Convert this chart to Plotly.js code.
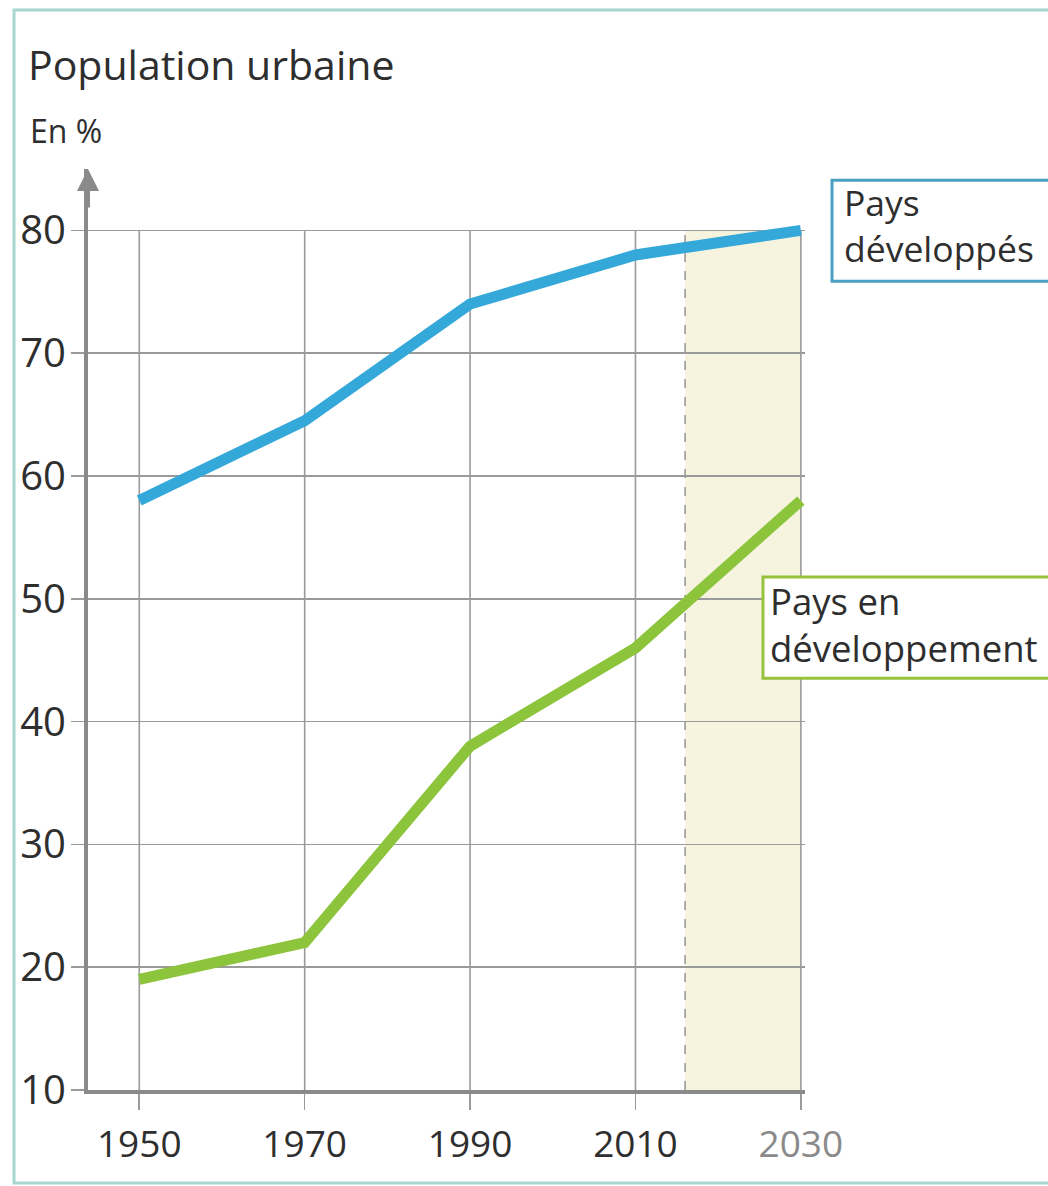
<!DOCTYPE html>
<html>
<head>
<meta charset="utf-8">
<script src="https://cdn.plot.ly/plotly-3.0.1.min.js"></script>
<style>html,body{margin:0;padding:0;background:#fff;}#chart{width:1048px;height:1186px;}</style>
</head>
<body>
<div id="chart"></div>
<script>
// ---- data ----
const years = [1950, 1970, 1990, 2010, 2030];
const developed = [58, 64.5, 74, 78, 80];
const developing = [19, 22, 38, 46, 58];
const yTicks = [10, 20, 30, 40, 50, 60, 70, 80];
const xTickText = ['1950', '1970', '1990', '2010', '<span style="color:#8a8a8a">2030</span>'];
const projectionStart = 2016;
const projectionEnd = 2030;
const yMin = 10, yGridTop = 80, yAxisTop = 85;
const xRange = [1943.8, 2030.5];

const FONT = 'Open Sans, Lato, sans-serif';
const TXT = '#2e2e2e';
const GRID = '#9a9a9a';
const AXIS = '#8a8a8a';

const traces = [
  {x: years, y: developed, mode: 'lines', line: {color: '#35a8da', width: 11}, hoverinfo: 'skip'},
  {x: years, y: developing, mode: 'lines', line: {color: '#8cc43c', width: 11}, hoverinfo: 'skip'}
];

const shapes = [];
// projection shading
shapes.push({type: 'rect', xref: 'x', yref: 'y', x0: projectionStart, x1: projectionEnd, y0: yMin, y1: yGridTop,
  fillcolor: '#f6f3df', line: {width: 0}, layer: 'below'});
// vertical grid lines (stop at the top grid value)
years.forEach(function (yr) {
  shapes.push({type: 'line', xref: 'x', yref: 'y', x0: yr, x1: yr, y0: yMin, y1: yGridTop,
    line: {color: GRID, width: 1.6}, layer: 'below'});
});
// dashed projection line
shapes.push({type: 'line', xref: 'x', yref: 'y', x0: projectionStart, x1: projectionStart, y0: yMin, y1: yGridTop,
  line: {color: GRID, width: 1.6, dash: 'dash'}, layer: 'below'});
// outer frame
shapes.push({type: 'rect', xref: 'paper', yref: 'paper', x0: -0.1032, x1: 1.6, y0: -0.101, y1: 1.1726,
  line: {color: '#a6d6ce', width: 3}, fillcolor: 'rgba(0,0,0,0)', layer: 'below'});
// label boxes
shapes.push({type: 'rect', xref: 'paper', yref: 'paper', x0: 1.0377, x1: 1.6, y0: 0.878, y1: 0.9878,
  line: {color: '#4aa0c2', width: 3}, fillcolor: '#ffffff', layer: 'above'});
shapes.push({type: 'rect', xref: 'paper', yref: 'paper', x0: 0.9414, x1: 1.6, y0: 0.447, y1: 0.557,
  line: {color: '#96c23c', width: 3}, fillcolor: '#ffffff', layer: 'above'});

const annotations = [
  {xref: 'paper', yref: 'paper', x: -0.0837, y: 1.0413, xanchor: 'left', yanchor: 'middle',
   text: 'En %', showarrow: false, font: {family: FONT, size: 32, color: TXT}},
  {xref: 'x', yref: 'y', x: xRange[0], y: yAxisTop, ax: 0, ay: 40, text: '', showarrow: true,
   arrowhead: 2, arrowsize: 1.1, arrowwidth: 4, arrowcolor: AXIS},
  {xref: 'paper', yref: 'paper', x: 1.051, y: 0.9925, xanchor: 'left', yanchor: 'top', align: 'left',
   text: 'Pays<br>développés', showarrow: false, font: {family: FONT, size: 35.5, color: TXT}},
  {xref: 'paper', yref: 'paper', x: 0.948, y: 0.5608, xanchor: 'left', yanchor: 'top', align: 'left',
   text: 'Pays en<br>développement', showarrow: false, font: {family: FONT, size: 36.5, color: TXT}}
];

const layout = {
  width: 1048, height: 1186,
  margin: {l: 88, r: 243, t: 169, b: 96, pad: 0},
  paper_bgcolor: '#ffffff', plot_bgcolor: 'rgba(0,0,0,0)',
  showlegend: false,
  title: {text: 'Population urbaine', x: 28 / 1048, xref: 'container', xanchor: 'left',
          y: 1 - 66 / 1186, yref: 'container', yanchor: 'middle',
          font: {family: FONT, size: 41, color: TXT}},
  xaxis: {range: xRange, tickmode: 'array', tickvals: years, ticktext: xTickText,
          showgrid: false, zeroline: false, showline: true, linecolor: AXIS, linewidth: 4,
          ticks: 'outside', ticklen: 16, tickwidth: 1.6, tickcolor: GRID,
          tickfont: {family: FONT, size: 37, color: TXT}, ticklabelstandoff: 3, fixedrange: true},
  yaxis: {range: [yMin, yAxisTop], tickmode: 'array', tickvals: yTicks,
          showgrid: true, gridcolor: GRID, gridwidth: 1.6, zeroline: false,
          showline: true, linecolor: AXIS, linewidth: 4,
          ticks: 'outside', ticklen: 13, tickwidth: 1.6, tickcolor: GRID,
          tickfont: {family: FONT, size: 40, color: TXT}, ticklabelstandoff: -3, fixedrange: true},
  shapes: shapes,
  annotations: annotations
};

Plotly.newPlot('chart', traces, layout, {displayModeBar: false, staticPlot: true});
</script>
</body>
</html>
